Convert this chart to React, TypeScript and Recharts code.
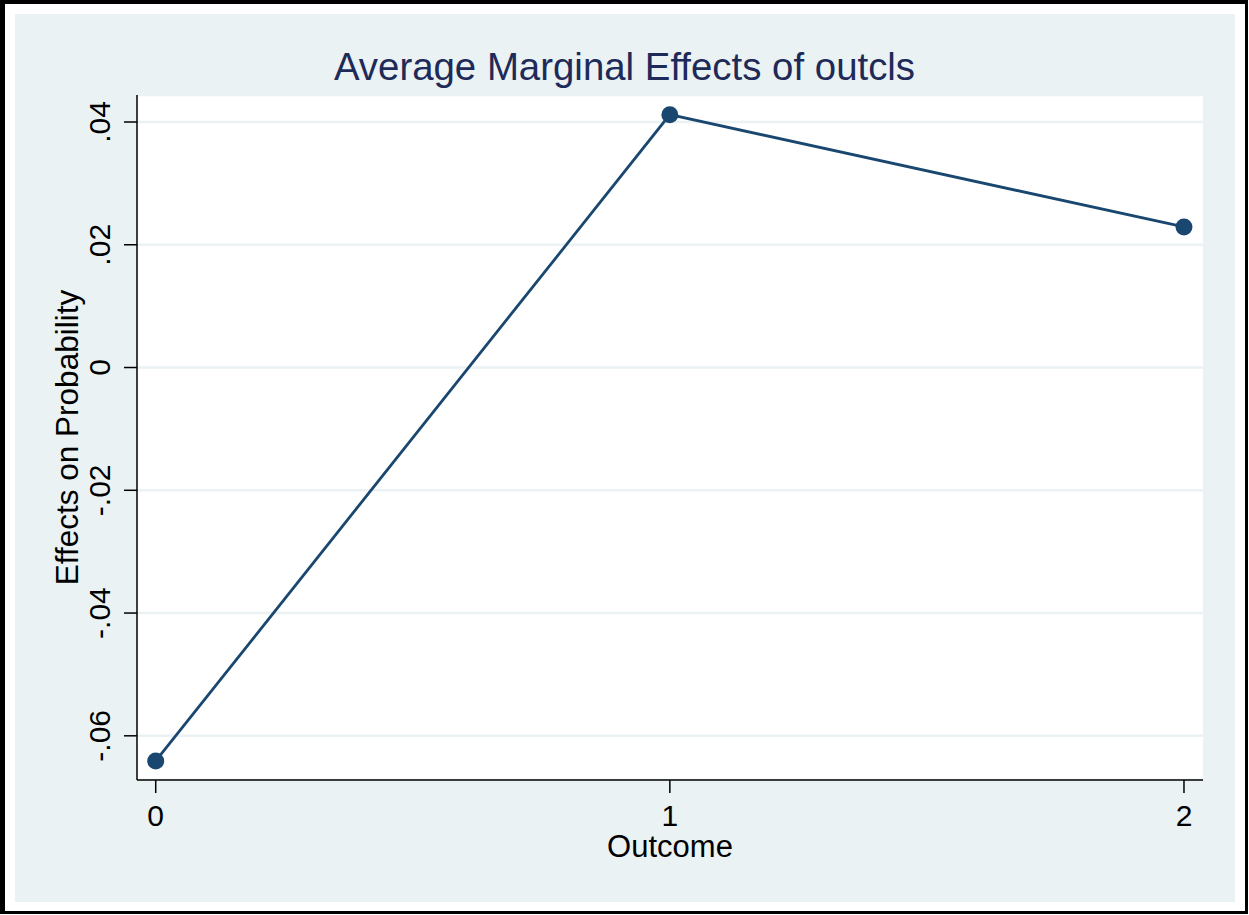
import { CartesianGrid, Label, Line, LineChart, XAxis, YAxis } from "recharts";

const outcomes = [0, 1, 2];
const effects = [-0.0641, 0.0412, 0.0229];
const yTicks = [-0.06, -0.04, -0.02, 0, 0.02, 0.04];
const xTicks = [0, 1, 2];

const data = outcomes.map((o, i) => ({ outcome: o, effect: effects[i] }));

const FONT = "'Liberation Sans', Arial, Helvetica, sans-serif";
const NAVY = "#1A476F";
const BG = "#EAF2F3";

// stata style: ".04", "-.02", "0"
const fmt = (v: number) => (v === 0 ? "0" : v.toFixed(2).replace("0.", "."));

const YTick = (props: any) => {
  const { x, y, payload } = props;
  const tx = x - 12;
  return (
    <text
      x={tx}
      y={y}
      transform={`rotate(-90, ${tx}, ${y})`}
      textAnchor="middle"
      fontSize={30}
      fontFamily={FONT}
      fill="#000"
    >
      {fmt(payload.value)}
    </text>
  );
};

const App = () => {
  return (
    <div
      style={{
        position: "absolute",
        left: 0,
        top: 0,
        width: 1249,
        height: 915,
        background: "#fff",
      }}
    >
      <div
        style={{
          position: "absolute",
          left: 0,
          top: 0,
          width: 1248,
          height: 914,
          boxSizing: "border-box",
          borderLeft: "5px solid #000",
          borderTop: "4px solid #000",
          borderRight: "3px solid #000",
          borderBottom: "3px solid #000",
        }}
      />
      <div
        style={{
          position: "absolute",
          left: 15,
          top: 14,
          width: 1220,
          height: 888,
          background: BG,
        }}
      />
      <div
        style={{
          position: "absolute",
          left: 0,
          top: 43,
          width: 1249,
          textAlign: "center",
          fontFamily: FONT,
          fontSize: 38.4,
          lineHeight: "48px",
          color: "#1E2A58",
        }}
      >
        Average Marginal Effects of outcls
      </div>
      <div style={{ position: "absolute", left: 0, top: 0 }}>
        <LineChart
          width={1249}
          height={915}
          data={data}
          margin={{ top: 95, right: 46, bottom: 35, left: 0 }}
        >
          <CartesianGrid
            horizontal={true}
            vertical={false}
            fill="#fff"
            fillOpacity={1}
            stroke={BG}
            strokeWidth={2.5}
          />
          <XAxis
            dataKey="outcome"
            type="number"
            domain={[-0.0364, 2.037]}
            ticks={xTicks}
            allowDataOverflow
            height={100}
            tickSize={13}
            tickMargin={12}
            axisLine={{ stroke: "#000", strokeWidth: 1.5 }}
            tickLine={{ stroke: "#000", strokeWidth: 1.5 }}
            tick={{ fontSize: 30, fontFamily: FONT, fill: "#000" }}
          >
            <Label
              content={(p: any) => {
                const vb = p.viewBox;
                return (
                  <text
                    x={vb.x + vb.width / 2}
                    y={vb.y + 77}
                    textAnchor="middle"
                    fontSize={31}
                    fontFamily={FONT}
                    fill="#000"
                  >
                    Outcome
                  </text>
                );
              }}
            />
          </XAxis>
          <YAxis
            type="number"
            domain={[-0.0672, 0.0444]}
            ticks={yTicks}
            allowDataOverflow
            width={137}
            tickSize={13}
            axisLine={{ stroke: "#000", strokeWidth: 1.5 }}
            tickLine={{ stroke: "#000", strokeWidth: 1.5 }}
            tick={<YTick />}
          >
            <Label
              content={(p: any) => {
                const vb = p.viewBox;
                const lx = vb.x + 78;
                const ly = vb.y + vb.height / 2;
                return (
                  <text
                    x={lx}
                    y={ly}
                    transform={`rotate(-90, ${lx}, ${ly})`}
                    textAnchor="middle"
                    fontSize={31.5}
                    fontFamily={FONT}
                    fill="#000"
                  >
                    Effects on Probability
                  </text>
                );
              }}
            />
          </YAxis>
          <Line
            type="linear"
            dataKey="effect"
            stroke={NAVY}
            strokeWidth={2.8}
            dot={{ r: 8.5, fill: NAVY, stroke: NAVY, strokeWidth: 0 }}
            activeDot={false}
            isAnimationActive={false}
          />
        </LineChart>
      </div>
    </div>
  );
};

export default App;
